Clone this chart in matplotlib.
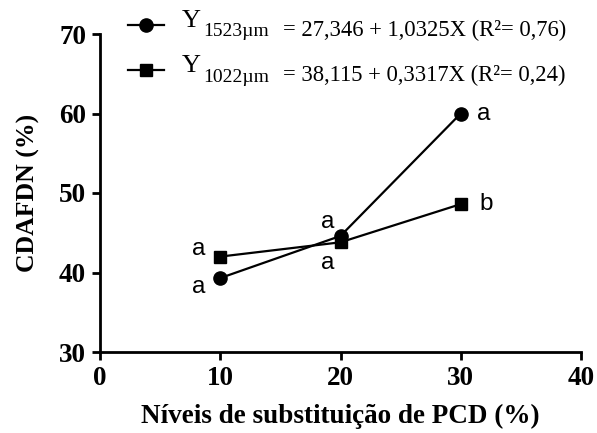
import matplotlib
matplotlib.use("Agg")
import matplotlib.pyplot as plt
from matplotlib.lines import Line2D

# dados
niveis = [10, 20, 30]
y_1523 = [39.3, 44.6, 60.0]
y_1022 = [42.0, 43.8, 48.6]
letras_1523 = ["a", "a", "a"]
letras_1022 = ["a", "a", "b"]
eq_1523 = ("1523µm", "= 27,346 + 1,0325X (R²= 0,76)")
eq_1022 = ("1022µm", "= 38,115 + 0,3317X (R²= 0,24)")

serif = "Liberation Serif"
sans = "Liberation Sans"

fig = plt.figure(figsize=(5.97, 4.33), dpi=100)
ax = fig.add_axes([100/597, 81/433, 481/597, 318/433])

ax.plot(niveis, y_1523, "k-", marker="o", markersize=9.5, linewidth=1.6, clip_on=False)
ax.plot(niveis, y_1022, "k-", marker="s", markersize=8.8, linewidth=1.6, clip_on=False)

# letras
off_1523 = [(-22, -9), (-13, 14), (23, 0)]
off_1022 = [(-22, 8), (-13, -21), (25, 0)]
for x, y, l, o in zip(niveis, y_1523, letras_1523, off_1523):
    ax.annotate(l, (x, y), xytext=o, textcoords="offset pixels", ha="center",
                va="center", fontsize=17.5, family=sans)
for x, y, l, o in zip(niveis, y_1022, letras_1022, off_1022):
    ax.annotate(l, (x, y), xytext=o, textcoords="offset pixels", ha="center",
                va="center", fontsize=17.5, family=sans)

ax.set_xlim(0, 40)
ax.set_ylim(30, 70)
ax.set_xticks([0, 10, 20, 30, 40])
ax.set_yticks([30, 40, 50, 60, 70])
for s in ["top", "right"]:
    ax.spines[s].set_visible(False)
for s in ["left", "bottom"]:
    ax.spines[s].set_linewidth(2)
ax.tick_params(width=2, length=6, direction="out", labelsize=19.5, pad=4)
for t in ax.get_xticklabels() + ax.get_yticklabels():
    t.set_family(serif)
    t.set_fontweight("bold")

ax.set_xlabel("Níveis de substituição de PCD (%)", family=serif, fontweight="bold",
              fontsize=19.5, labelpad=9)
ax.set_ylabel("CDAFDN (%)", family=serif, fontweight="bold", fontsize=18.5, labelpad=14)

# legenda manual
for yy, mk, ms, eq in [(25, "o", 9.5, eq_1523), (70, "s", 8.8, eq_1022)]:
    fy = 1 - yy/433
    fig.add_artist(Line2D([128/597, 164/597], [fy, fy], color="k", linewidth=1.6,
                          transform=fig.transFigure))
    fig.add_artist(Line2D([146/597], [fy], color="k", marker=mk, markersize=ms,
                          transform=fig.transFigure))
    fig.text(182/597, fy + 4/433, "Y", family=serif, fontsize=19, va="center", ha="left")
    fig.text(203/597, fy - 7/433, eq[0], family=serif, fontsize=14, va="center", ha="left")
    fig.text(283/597, fy - 5/433, eq[1], family=serif, fontsize=16.3, va="center", ha="left")

fig.savefig("out.png", dpi=100)
